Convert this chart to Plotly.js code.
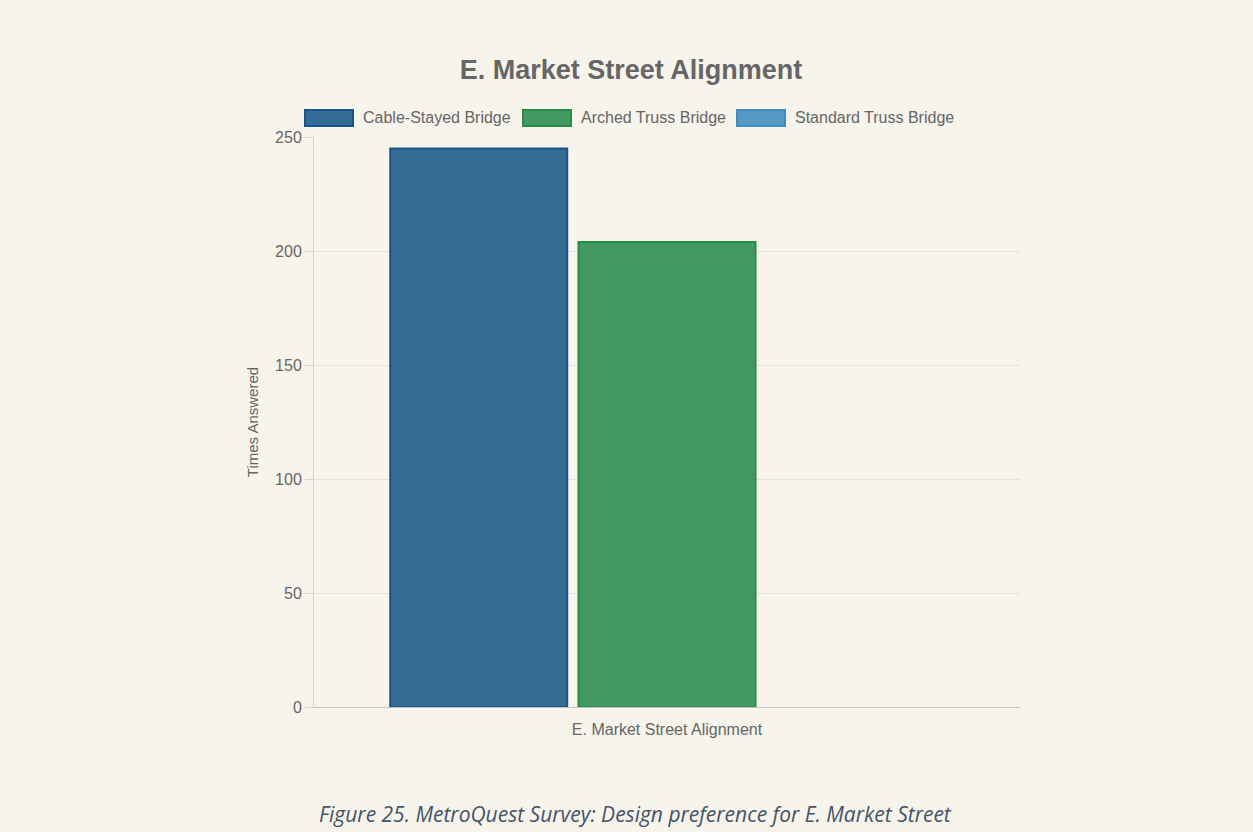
<!DOCTYPE html>
<html>
<head>
<meta charset="utf-8">
<script src="https://cdn.plot.ly/plotly-3.0.1.min.js"></script>
<style>
  html, body { margin: 0; padding: 0; background: #f7f4ec; }
  #chart { width: 1253px; height: 832px; }
</style>
</head>
<body>
<div id="chart"></div>
<script>
// ---- data ----
const categories = ["E. Market Street Alignment"];
const seriesNames = ["Cable-Stayed Bridge", "Arched Truss Bridge", "Standard Truss Bridge"];
const cableStayed = [245];
const archedTruss = [204];
const standardTruss = [0];
const yTickVals = [0, 50, 100, 150, 200, 250];
const chartTitle = "E. Market Street Alignment";
const yTitle = "Times Answered";
const caption = "Figure 25. MetroQuest Survey: Design preference for E. Market Street";

// ---- styles ----
const fills = ["#336d96", "#419a5f", "#5699c3"];
const borders = ["#1b5389", "#2a8a47", "#3f8bc0"];
const values = [cableStayed, archedTruss, standardTruss];
const font = "Liberation Sans, Arial, Helvetica, sans-serif";

// plot area in pixels (for placing the legend / caption in paper coordinates)
const W = 1253, H = 832;
const PL = 314, PR = 1020, PT = 137, PB = 707;
const px = x => (x - PL) / (PR - PL);
const py = y => (PB - y) / (PB - PT);

// zero-height bars are not stroked (as in the original chart)
const traces = values.map((v, i) => ({
  type: "bar",
  name: seriesNames[i],
  x: categories,
  y: v.map(d => (d === 0 ? null : d)),
  marker: { color: fills[i], line: { color: borders[i], width: 2 } },
  showlegend: false,
  hoverinfo: "name+y"
}));

// Chart.js-style legend: wide boxes followed by labels
const legendBoxLeft = [305, 523, 737];
const legendBoxW = 48, legendTop = 110, legendBottom = 126, legendTextGap = 8;
const shapes = [];
const annotations = [];
seriesNames.forEach((name, i) => {
  shapes.push({
    type: "rect", xref: "paper", yref: "paper",
    x0: px(legendBoxLeft[i]), x1: px(legendBoxLeft[i] + legendBoxW),
    y0: py(legendBottom), y1: py(legendTop),
    fillcolor: fills[i], line: { color: borders[i], width: 2 }
  });
  annotations.push({
    text: name, xref: "paper", yref: "paper",
    x: px(legendBoxLeft[i] + legendBoxW + legendTextGap), xanchor: "left",
    y: py((legendTop + legendBottom) / 2), yanchor: "middle",
    showarrow: false,
    font: { family: font, size: 16, color: "#666666" }
  });
});
annotations.push({
  text: "<i>" + caption + "</i>",
  xref: "paper", yref: "paper",
  x: px(635), xanchor: "center",
  y: py(814), yanchor: "middle",
  showarrow: false,
  font: { family: "Open Sans, Noto Sans, sans-serif", size: 21, color: "#44546a" }
});

const layout = {
  width: W,
  height: H,
  paper_bgcolor: "#f7f4ec",
  plot_bgcolor: "rgba(0,0,0,0)",
  margin: { l: PL, r: W - PR, t: PT, b: H - PB, pad: 0 },
  title: {
    text: "<b>" + chartTitle + "</b>",
    font: { family: font, size: 27, color: "#666666" },
    x: 631 / W, xanchor: "center",
    y: 1 - 70 / H, yanchor: "middle"
  },
  barmode: "group",
  bargap: 0.2,
  bargroupgap: 0.06,
  showlegend: false,
  xaxis: {
    type: "category",
    showgrid: false,
    showline: true,
    linecolor: "#c4c4c4",
    linewidth: 1,
    ticks: "",
    ticklabelstandoff: 8,
    tickfont: { family: font, size: 16, color: "#666666" },
    zeroline: false,
    fixedrange: true
  },
  yaxis: {
    range: [0, 250],
    tickvals: yTickVals,
    showgrid: true,
    gridcolor: "#e4e2dc",
    gridwidth: 1,
    showline: true,
    linecolor: "#d4d2cc",
    linewidth: 1,
    ticks: "outside",
    ticklen: 8,
    tickcolor: "#d4d2cc",
    tickfont: { family: font, size: 16, color: "#666666" },
    zeroline: false,
    title: {
      text: yTitle,
      font: { family: font, size: 15, color: "#666666" },
      standoff: 12
    },
    fixedrange: true
  },
  shapes: shapes,
  annotations: annotations
};

Plotly.newPlot("chart", traces, layout, { displayModeBar: false, staticPlot: true });
</script>
</body>
</html>
